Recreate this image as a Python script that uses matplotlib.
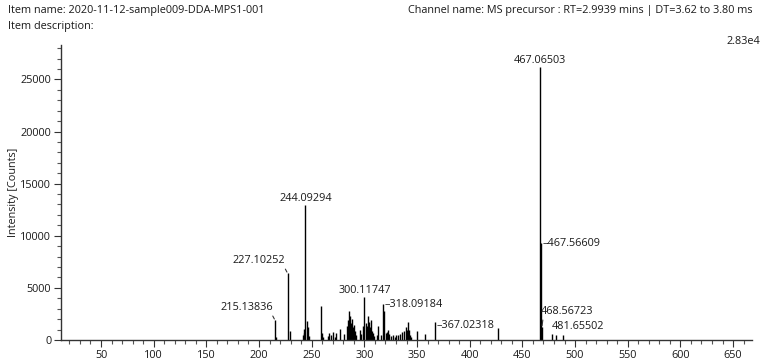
import matplotlib
matplotlib.use("Agg")
import matplotlib.pyplot as plt
from matplotlib.ticker import MultipleLocator

plt.rcParams['font.family'] = ['Open Sans', 'DejaVu Sans']

ITEM_NAME = "Item name: 2020-11-12-sample009-DDA-MPS1-001"
ITEM_DESC = "Item description:"
CHANNEL = "Channel name: MS precursor : RT=2.9939 mins | DT=3.62 to 3.80 ms"
SCALE_TEXT = "2.83e4"

# centroided precursor spectrum: m/z and intensity (counts)
MZ = [215.13836, 216.1, 227.10252, 229.4, 242.1, 242.9, 243.1, 244.09294, 245.1, 246.1, 247.1,
      259.1, 260.1, 261.1, 265.1, 266.1, 268.1, 270.1, 272.1, 273.1, 277.1,
      281.1, 283.1, 284.1, 285.1, 286.1, 287.1, 288.1, 289.1, 290.1, 291.1, 292.1,
      296.1, 297.1, 299.1, 300.11747, 301.1, 302.1, 303.1, 304.1, 305.1, 306.1, 307.1, 308.1, 309.1,
      312.1, 313.1, 316.1, 318.09184, 319.1, 320.1, 321.1, 322.1, 323.1, 325.1, 327.1, 329.1,
      330.1, 332.1, 334.1, 336.1, 338.1, 339.1, 340.1, 341.7, 342.6, 343.1, 344.1,
      349.7, 357.6, 367.02318, 427.2,
      467.56609, 467.06503, 468.56723, 477.9, 481.65502, 488.4]
INTENSITY = [1900, 250, 6400, 900, 500, 700, 1100, 12950, 1800, 1250, 400,
             3250, 700, 300, 400, 650, 450, 800, 300, 650, 1050,
             600, 1300, 1900, 2800, 2300, 1600, 2000, 1200, 1400, 900, 500,
             1000, 600, 1300, 4100, 1600, 1300, 2300, 1700, 1200, 1900, 900, 700, 400,
             500, 1300, 500, 3450, 2750, 700, 800, 1000, 600, 400, 450, 300,
             500, 500, 600, 800, 900, 1200, 1000, 1750, 1000, 500, 300,
             900, 550, 1700, 1150,
             9300, 26200, 1250, 600, 500, 450]

# labelled peaks: m/z, intensity, text offset (pt), leader style
LABELS = [
    (244.09294, 12950, (0, 1), 'top'),
    (467.06503, 26200, (0, 1), 'top'),
    (300.11747, 4100, (0, 1), 'top'),
    (227.10252, 6400, (-1.5, 5), 'left'),
    (215.13836, 1900, (-1.5, 5), 'left'),
    (318.09184, 3450, (1, 0), 'right'),
    (367.02318, 1700, (1, -2), 'right'),
    (467.56609, 9300, (1, 0), 'right'),
    (468.56723, 1250, (-1, 7), 'slash'),
    (481.65502, 500, (-3, 2), 'plain'),
]

TEXT_COLOR = '#1a1a1a'
FS = 7.8

fig = plt.figure(figsize=(7.67, 3.6), dpi=100)
ax = fig.add_axes([61 / 767, 20 / 360, (752 - 61) / 767, (340 - 45) / 360])

ax.vlines(MZ, 0, INTENSITY, color='black', linewidth=1.0)

ax.set_xlim(12, 668)
ax.set_ylim(0, 28300)
ax.xaxis.set_major_locator(MultipleLocator(50))
ax.xaxis.set_minor_locator(MultipleLocator(10))
ax.yaxis.set_major_locator(MultipleLocator(5000))
ax.yaxis.set_minor_locator(MultipleLocator(1000))
ax.set_xticks([50 * i for i in range(1, 14)])

for side in ('top', 'right'):
    ax.spines[side].set_visible(False)
for side in ('left', 'bottom'):
    ax.spines[side].set_color('#333333')
    ax.spines[side].set_linewidth(1.0)

ax.tick_params(which='major', length=5, width=0.8, color='#333333',
               labelsize=FS, labelcolor=TEXT_COLOR, pad=2)
ax.tick_params(which='minor', length=3, width=0.8, color='#555555')
ax.set_ylabel("Intensity [Counts]", fontsize=FS, color=TEXT_COLOR, labelpad=1)

for mz, inten, (dx, dy), style in LABELS:
    txt = "%.5f" % mz
    if style == 'top':
        ax.annotate(txt, (mz, inten), xytext=(dx, dy), textcoords='offset points',
                    ha='center', va='bottom', fontsize=FS, color=TEXT_COLOR)
    elif style == 'left':
        ax.annotate(txt, (mz, inten), xytext=(dx, dy), textcoords='offset points',
                    ha='right', va='bottom', fontsize=FS, color=TEXT_COLOR,
                    arrowprops=dict(arrowstyle='-', color='#333333', lw=0.8,
                                    shrinkA=0, shrinkB=1,
                                    relpos=(0.97, 0.0)))
    elif style == 'right':
        ax.annotate("\u2013" + txt, (mz, inten), xytext=(dx, dy), textcoords='offset points',
                    ha='left', va='center', fontsize=FS, color=TEXT_COLOR)
    elif style == 'slash':
        ax.annotate(txt, (mz, inten), xytext=(dx, dy), textcoords='offset points',
                    ha='left', va='bottom', fontsize=FS, color=TEXT_COLOR,
                    arrowprops=dict(arrowstyle='-', color='#333333', lw=0.8,
                                    shrinkA=0, shrinkB=1, relpos=(0.05, 0.0)))
    else:
        ax.annotate(txt, (mz, inten), xytext=(dx, dy), textcoords='offset points',
                    ha='left', va='bottom', fontsize=FS, color=TEXT_COLOR)

fig.text(8 / 767, 1 - 10 / 360, ITEM_NAME, fontsize=FS, color=TEXT_COLOR, va='center')
fig.text(8 / 767, 1 - 27 / 360, ITEM_DESC, fontsize=FS, color=TEXT_COLOR, va='center')
fig.text(752 / 767, 1 - 10 / 360, CHANNEL, fontsize=FS, color=TEXT_COLOR, va='center', ha='right')
fig.text(760 / 767, 1 - 42 / 360, SCALE_TEXT, fontsize=FS, color=TEXT_COLOR, va='center', ha='right')

fig.savefig('out.png', dpi=100)
